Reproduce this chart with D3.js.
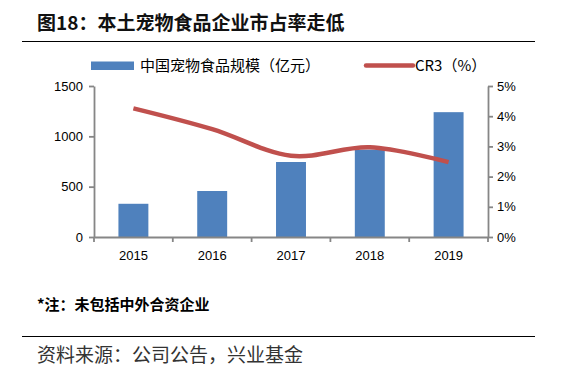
<!DOCTYPE html>
<html>
<head>
<meta charset="utf-8">
<script src="https://cdn.jsdelivr.net/npm/d3@7"></script>
<style>
  body { margin: 0; background: #fff; }
  svg { display: block; }
</style>
</head>
<body>
<div id="chart"></div>
<script>
// chart data
const years = ["2015", "2016", "2017", "2018", "2019"];
const marketSize = [330, 457, 745, 868, 1240];     // 亿元
const cr3 = [4.26, 3.57, 2.69, 2.97, 2.48];        // %
const leftTicks = [0, 500, 1000, 1500];
const rightTicks = [0, 1, 2, 3, 4, 5];

const width = 562, height = 373;
const plot = { left: 94, right: 488, top: 86, bottom: 237 };

const svg = d3.select("#chart").append("svg")
    .attr("width", width)
    .attr("height", height);

const cjk = "'Noto Sans CJK SC', 'Noto Sans', sans-serif";

// title + rules
svg.append("text")
    .attr("x", 37).attr("y", 30)
    .attr("font-family", cjk)
    .attr("font-weight", "bold")
    .attr("font-size", 19)
    .attr("fill", "#111")
    .text("图18：本土宠物食品企业市占率走低");

svg.append("line")
    .attr("x1", 22).attr("x2", 535)
    .attr("y1", 41.5).attr("y2", 41.5)
    .attr("stroke", "#000").attr("stroke-width", 1);

// scales
const x = d3.scaleBand()
    .domain(years)
    .range([plot.left, plot.right])
    .paddingInner(0.62)
    .paddingOuter(0.31);

const xOuter = d3.scaleBand()
    .domain(years)
    .range([plot.left, plot.right]);

const yL = d3.scaleLinear().domain([0, 1500]).range([plot.bottom, plot.top]);
const yR = d3.scaleLinear().domain([0, 5]).range([plot.bottom, plot.top]);

// bars
svg.append("g")
  .selectAll("rect")
  .data(marketSize)
  .join("rect")
    .attr("x", (d, i) => x(years[i]))
    .attr("y", d => yL(d))
    .attr("width", x.bandwidth())
    .attr("height", d => yL(0) - yL(d))
    .attr("fill", "#4F81BD");

// CR3 line
const line = d3.line()
    .x((d, i) => xOuter(years[i]) + xOuter.bandwidth() / 2)
    .y(d => yR(d))
    .curve(d3.curveCardinal.tension(0));

svg.append("path")
    .datum(cr3)
    .attr("d", line)
    .attr("fill", "none")
    .attr("stroke", "#C0504D")
    .attr("stroke-width", 4.5)
    .attr("stroke-linejoin", "round");

// axes
const axisColor = "#868686";
const tickFont = "'Liberation Sans', Arial, sans-serif";

const gL = svg.append("g")
    .attr("transform", `translate(${plot.left},0)`)
    .call(d3.axisLeft(yL).tickValues(leftTicks).tickSize(5).tickPadding(6).tickSizeOuter(0)
      .tickFormat(d3.format("d")));

const gR = svg.append("g")
    .attr("transform", `translate(${plot.right},0)`)
    .call(d3.axisRight(yR).tickValues(rightTicks).tickSize(5).tickPadding(4).tickSizeOuter(0)
      .tickFormat(d => d + "%"));

const gB = svg.append("g")
    .attr("transform", `translate(0,${plot.bottom})`)
    .call(d3.axisBottom(xOuter).tickSize(0).tickPadding(14).tickSizeOuter(0));

// category boundary ticks on bottom axis
gB.selectAll(".bound")
  .data(d3.range(years.length + 1))
  .join("line")
    .attr("class", "bound")
    .attr("x1", i => plot.left + i * xOuter.step())
    .attr("x2", i => plot.left + i * xOuter.step())
    .attr("y1", 0).attr("y2", 5)
    .attr("stroke", axisColor).attr("stroke-width", 1.8);

[gL, gR, gB].forEach(g => {
  g.select(".domain").attr("stroke", axisColor).attr("stroke-width", 1.8);
  g.selectAll(".tick line").attr("stroke", axisColor).attr("stroke-width", 1.8);
  g.selectAll("text")
    .attr("font-family", tickFont)
    .attr("font-size", 13)
    .attr("fill", "#000");
});

// legend
const legend = svg.append("g").attr("font-family", cjk).attr("font-size", 15).attr("fill", "#000");
legend.append("rect")
    .attr("x", 91).attr("y", 61.5).attr("width", 43).attr("height", 8.5)
    .attr("fill", "#4F81BD");
legend.append("text")
    .attr("x", 140).attr("y", 66).attr("dy", "0.35em")
    .text("中国宠物食品规模（亿元）");
legend.append("line")
    .attr("x1", 366).attr("x2", 413).attr("y1", 65.5).attr("y2", 65.5)
    .attr("stroke", "#C0504D").attr("stroke-width", 4.5).attr("stroke-linecap", "round");
legend.append("text")
    .attr("x", 415).attr("y", 66).attr("dy", "0.35em")
    .text("CR3（%）");

// footnote + source
svg.append("text")
    .attr("x", 37).attr("y", 305).attr("dy", "0.35em")
    .attr("font-family", cjk).attr("font-weight", "bold").attr("font-size", 15)
    .attr("fill", "#000")
    .text("*注：未包括中外合资企业");

svg.append("line")
    .attr("x1", 22).attr("x2", 535)
    .attr("y1", 336.5).attr("y2", 336.5)
    .attr("stroke", "#000").attr("stroke-width", 1);

svg.append("text")
    .attr("x", 37).attr("y", 355).attr("dy", "0.35em")
    .attr("font-family", cjk).attr("font-size", 19)
    .attr("fill", "#333")
    .text("资料来源：公司公告，兴业基金");
</script>
</body>
</html>
